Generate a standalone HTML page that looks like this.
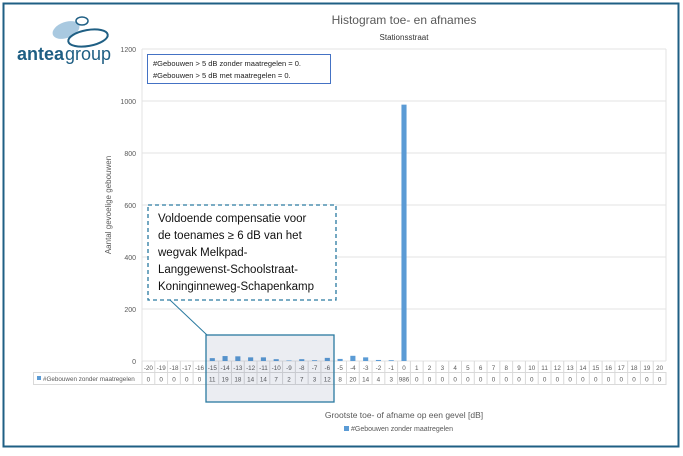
<!DOCTYPE html>
<html><head><meta charset="utf-8"><style>
body{margin:0;width:683px;height:451px;background:#fff;overflow:hidden;font-family:"Liberation Sans",sans-serif}
</style></head><body>
<svg width="683" height="451" xmlns="http://www.w3.org/2000/svg" font-family="Liberation Sans, sans-serif">
<rect x="3.5" y="3.5" width="675" height="443" fill="#fff" stroke="#1f5f84" stroke-width="2"/>
<g>
<ellipse cx="66" cy="30" rx="14" ry="8" fill="#a9c9e0" transform="rotate(-20 66 30)"/>
<ellipse cx="88" cy="38" rx="20" ry="8" fill="none" stroke="#1f5f84" stroke-width="2" transform="rotate(-10 88 38)"/>
<ellipse cx="82" cy="21" rx="6" ry="4" fill="none" stroke="#1f5f84" stroke-width="1.5"/>
<text x="17" y="60" font-size="18" fill="#1f5f84" font-weight="bold">antea</text><text x="65" y="60" font-size="18" fill="#1f5f84">group</text>
</g>
<text x="404" y="24" font-size="12" fill="#595959" text-anchor="middle">Histogram toe- en afnames</text>
<text x="404" y="40" font-size="8" fill="#333" text-anchor="middle">Stationsstraat</text>
<g id="grid"></g>
<g id="bars"></g>
<g id="table"></g>
<rect x="206" y="335" width="128" height="67" fill="#1f3a6e" fill-opacity="0.09" stroke="#2a7aa0" stroke-width="1.3"/>
<line x1="170" y1="300" x2="207" y2="335" stroke="#2a7aa0" stroke-width="1"/>
<rect x="148" y="205" width="188" height="95" fill="#fff" stroke="#2a7aa0" stroke-width="1.3" stroke-dasharray="4,3"/>
<g font-size="11.5" fill="#111">
<text x="158" y="222">Voldoende compensatie voor</text>
<text x="158" y="239">de toenames ≥ 6 dB van het</text>
<text x="158" y="256">wegvak Melkpad-</text>
<text x="158" y="273">Langgewenst-Schoolstraat-</text>
<text x="158" y="290">Koninginneweg-Schapenkamp</text>
</g>
<rect x="147.5" y="54.5" width="183" height="29" fill="#fff" stroke="#4472c4" stroke-width="1"/>
<text x="153" y="66" font-size="7.5" fill="#222">#Gebouwen &gt; 5 dB zonder maatregelen = 0.</text>
<text x="153" y="78" font-size="7.5" fill="#222">#Gebouwen &gt; 5 dB met maatregelen = 0.</text>
<text transform="translate(111 205) rotate(-90)" font-size="8" fill="#595959" text-anchor="middle">Aantal gevoelige gebouwen</text>
<text x="404" y="418" font-size="8.5" fill="#595959" text-anchor="middle">Grootste toe- of afname op een gevel [dB]</text>
<g><rect x="344" y="426" width="5" height="5" fill="#5b9bd5"/><text x="351" y="431" font-size="7" fill="#595959">#Gebouwen zonder maatregelen</text></g>
</svg>
<script>
const categories=[-20,-19,-18,-17,-16,-15,-14,-13,-12,-11,-10,-9,-8,-7,-6,-5,-4,-3,-2,-1,0,1,2,3,4,5,6,7,8,9,10,11,12,13,14,15,16,17,18,19,20];
const values=[0,0,0,0,0,11,19,18,14,14,7,2,7,3,12,8,20,14,4,3,986,0,0,0,0,0,0,0,0,0,0,0,0,0,0,0,0,0,0,0,0];
const yTicks=[0,200,400,600,800,1000,1200];
const NS="http://www.w3.org/2000/svg";
const x0=142,x1=666,yBase=361,yTop=49,yMax=1200;
const cw=(x1-x0)/categories.length;
const y=v=>yBase-(v/yMax)*(yBase-yTop);
const xc=i=>x0+cw*i;
function mk(tag,attrs,parent){const e=document.createElementNS(NS,tag);for(const k in attrs)e.setAttribute(k,attrs[k]);parent.appendChild(e);return e;}
const grid=document.getElementById('grid'),bars=document.getElementById('bars'),table=document.getElementById('table');
yTicks.forEach(t=>{
 const l=mk('line',{x1:x0,x2:x1,y1:y(t),y2:y(t),stroke:'#e3e3e3','stroke-width':1},grid);
 
 
 const tx=mk('text',{x:x0-6,y:y(t)+3,'font-size':7,fill:'#595959','text-anchor':'end'},grid);tx.textContent=t;
 
 
});
mk('line',{x1:x0,x2:x0,y1:yTop,y2:yBase,stroke:'#e3e3e3'},grid);
mk('line',{x1:x1,x2:x1,y1:yTop,y2:yBase,stroke:'#e3e3e3'},grid);
values.forEach((v,i)=>{
 if(v<=0)return;
 const r=mk('rect',{x:xc(i)+cw*0.3,y:y(v),width:cw*0.4,height:yBase-y(v),fill:'#5b9bd5'},bars);
 
 
});
mk('rect',{x:33.5,y:372.5,width:x1-33.5,height:12,fill:'none',stroke:'#d9d9d9'},table);
mk('line',{x1:x0,x2:x1,y1:372.5,y2:372.5,stroke:'#d9d9d9'},table);
mk('rect',{x:37,y:376,width:4,height:4,fill:'#5b9bd5'},table);
const lt=mk('text',{x:43,y:381,'font-size':6.3,fill:'#595959'},table);lt.textContent='#Gebouwen zonder maatregelen';


categories.forEach((c,i)=>{
 mk('line',{x1:xc(i),x2:xc(i),y1:yBase,y2:384.5,stroke:'#d9d9d9'},table);
 const t=mk('text',{x:xc(i)+cw/2,y:370,'font-size':6.3,fill:'#595959','text-anchor':'middle'},table);t.textContent=c;
 
 
 const v=mk('text',{x:xc(i)+cw/2,y:381.5,'font-size':6.3,fill:'#595959','text-anchor':'middle'},table);v.textContent=values[i];
 
 
});
</script>
</body></html>
